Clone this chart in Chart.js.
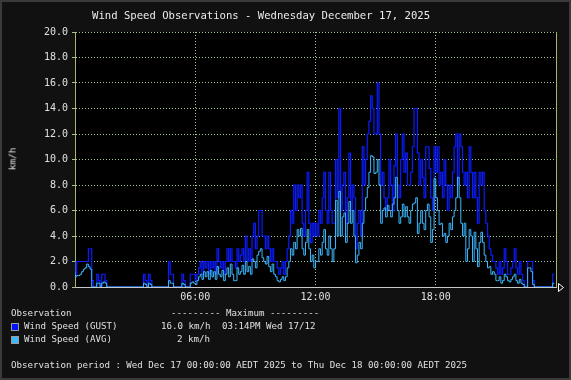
<!DOCTYPE html>
<html>
<head>
<meta charset="utf-8">
<script src="https://cdn.jsdelivr.net/npm/chart.js@4"></script>
<style>
html, body { margin: 0; padding: 0; background: #111; }
#wrap { position: relative; width: 571px; height: 380px; background: #111; overflow: hidden; }
#frame { position: absolute; left: 0; top: 0; width: 571px; height: 380px; box-sizing: border-box; border: 2px solid #3a3a3a; pointer-events: none; }
.t { position: absolute; white-space: pre; color: #e0e0e0; font-family: "DejaVu Sans Mono", monospace; font-size: 9.15px; line-height: 11px; }
.sw { position: absolute; width: 8px; height: 8px; box-sizing: border-box; border: 1px solid #9a9a9a; }
#title { font-size: 10.6px; line-height: 12px; color: #ececec; }
#ylab { left: 12px; top: 159px; font-size: 9.4px; transform: translate(-50%, -50%) rotate(-90deg); }
</style>
</head>
<body>
<div id="wrap">
  <canvas id="myChart" width="571" height="380"></canvas>
  <div class="t" id="title" style="left:92px;top:9px">Wind Speed Observations - Wednesday December 17, 2025</div>
  <div class="t" id="ylab">km/h</div>
  <div class="t" style="left:11px;top:308px">Observation</div>
  <div class="t" style="left:171px;top:308px">--------- Maximum ---------</div>
  <div class="sw" style="left:11px;top:323px;background:#0011ff"></div>
  <div class="t" style="left:24px;top:321px">Wind Speed (GUST)</div>
  <div class="t" style="left:161px;top:321px">16.0 km/h</div>
  <div class="t" style="left:222px;top:321px">03:14PM Wed 17/12</div>
  <div class="sw" style="left:11px;top:336px;background:#3db8ff"></div>
  <div class="t" style="left:24px;top:334px">Wind Speed (AVG)</div>
  <div class="t" style="left:177px;top:334px">2 km/h</div>
  <div class="t" style="left:11px;top:360px">Observation period : Wed Dec 17 00:00:00 AEDT 2025 to Thu Dec 18 00:00:00 AEDT 2025</div>
  <div id="frame"></div>
</div>
<script>
// 5 minute samples, one row per hour
const sampleMinutes = 5;

const gustKmh = [
  2, 1, 2, 2, 2, 2, 2, 2, 2, 3, 3, 0.5,
  0, 0, 1, 0.5, 0, 1, 1, 0.5, 0, 0, 0, 0,
  0, 0, 0, 0, 0, 0, 0, 0, 0, 0, 0, 0,
  0, 0, 0, 0, 0, 0, 1, 0.5, 0, 1, 0.5, 0,
  0, 0, 0, 0, 0, 0, 0, 0, 0, 2, 1, 1,
  0, 0, 0, 0, 0, 1, 0.5, 0, 0, 0, 1, 1,
  1, 0.5, 1, 1.5, 2, 1, 2, 1.5, 2, 1, 2, 1.5,
  2, 1, 3, 2, 1.5, 2, 1, 2, 3, 2, 3, 2,
  2, 1.5, 3, 2, 2.5, 3, 2, 4, 2, 3, 2, 4,
  5, 3, 4, 6, 6, 4, 4, 3, 4, 3, 2, 3,
  2, 2, 1.5, 1, 1.5, 2, 1, 2, 3, 4, 6, 5,
  8, 6, 8, 7, 8, 5, 4, 6, 9, 5, 3.5, 5,
  4, 5, 4, 6, 5, 7, 9, 6, 5, 9, 6, 5,
  5, 10, 7, 14, 6, 8, 9, 5, 7, 10.5, 6, 8,
  7, 3, 5, 6, 4, 11, 8, 10, 12, 13, 15, 14,
  12, 12, 16, 12, 8, 9, 7, 6, 7, 10, 8, 6,
  9.5, 12, 8, 7, 10, 12, 9, 10.5, 8, 8, 9, 11,
  14, 14, 10.5, 8, 10, 8.6, 7, 11, 11, 9.3, 7, 6,
  11, 9, 11, 8, 9, 7, 10, 8, 6, 8, 7, 9,
  11, 12, 8, 12, 11, 9, 8, 9, 7, 11, 9, 7,
  9, 7, 5, 9, 8, 9, 6, 5, 4, 3, 2.5, 2,
  2, 1.5, 1, 2, 1, 1.5, 3, 2, 1, 1, 1.5, 2,
  3, 1.5, 1, 2, 1, 0.5, 0, 0, 2, 2, 2, 0.5,
  0, 0, 0, 0, 0, 0, 0, 0, 0, 0, 0, 1
];

const avgKmh = [
  1.2, 0.8, 0.9, 0.9, 1.0, 1.2, 1.4, 1.5, 1.8, 1.6, 1.4, 0,
  0, 0, 0.3, 0.3, 0, 0.3, 0.4, 0.3, 0, 0, 0, 0,
  0, 0, 0, 0, 0, 0, 0, 0, 0, 0, 0, 0,
  0, 0, 0, 0, 0, 0, 0.3, 0.2, 0, 0.3, 0.2, 0,
  0, 0, 0, 0, 0, 0, 0, 0, 0, 0.5, 0.3, 0.3,
  0, 0, 0, 0, 0, 0.3, 0.2, 0, 0, 0, 0.3, 0.4,
  0.3, 0.2, 0.5, 0.8, 1.0, 0.6, 1.2, 0.8, 1.2, 0.6, 1.3, 0.8,
  1.2, 0.6, 1.6, 1.0, 0.8, 1.3, 0.5, 1.0, 1.5, 0.8, 1.8, 1.0,
  0.5, 0.5, 1.5, 1.0, 1.2, 1.7, 1.0, 2.0, 1.2, 1.6, 1.0, 2.2,
  2.0, 1.5, 2.5, 2.8, 3.0, 2.3, 2.0, 1.8, 2.4, 1.6, 1.2, 1.8,
  1.0, 0.8, 0.5, 0.4, 0.6, 0.8, 0.5, 0.8, 1.5, 2.0, 3.0, 2.5,
  3.5, 3.0, 4.5, 4.0, 4.6, 3.0, 2.5, 3.5, 4.5, 3.0, 2.0, 2.5,
  1.5, 2.0, 2.0, 3.0, 2.5, 3.5, 4.5, 3.0, 2.5, 4.0, 3.0, 2.0,
  3.0, 6.8, 4.0, 7.5, 4.0, 5.5, 5.8, 3.5, 5.0, 6.7, 5.0, 6.0,
  4.0, 1.9, 2.5, 3.5, 3.0, 5.0, 6.0, 7.0, 7.8, 9.0, 10.3, 10.2,
  8.9, 9.0, 10.0, 8.0, 5.0, 6.0, 6.2, 5.5, 6.4, 6.0, 5.5, 6.5,
  7.0, 8.6, 6.0, 5.0, 5.5, 6.5, 5.5, 6.3, 5.5, 5.0, 6.0, 6.5,
  6.6, 7.0, 4.2, 5.0, 6.0, 5.0, 4.5, 6.0, 6.5, 5.5, 3.5, 4.5,
  8.5, 7.0, 6.0, 4.9, 5.0, 4.0, 4.2, 3.5, 4.0, 5.0, 4.5, 5.5,
  6.0, 7.0, 8.6, 7.0, 5.0, 4.0, 5.0, 2.0, 3.0, 4.5, 4.0, 2.0,
  4.3, 3.0, 1.6, 3.5, 4.3, 3.5, 2.5, 2.0, 1.5, 1.6, 1.0, 1.2,
  1.0, 0.5, 0.5, 0.8, 0.3, 0.5, 1.0, 0.8, 0.5, 0.4, 0.6, 0.8,
  1.0, 0.5, 0.3, 0.6, 0.3, 0.2, 0, 0, 1.5, 1.5, 1.2, 0.2,
  0, 0, 0, 0, 0, 0, 0, 0, 0, 0, 0, 0.3
];

const tickHours = [6, 12, 18];
const tickLabels = ['06:00', '12:00', '18:00'];

const gridColor = '#a6c895';
const axisColor = '#a8b46a';
const textColor = '#e0e0e0';
const monoFont = { family: 'DejaVu Sans Mono', size: 10 };

function toPoints(values) {
  return values.map((v, i) => ({ x: i * sampleMinutes / 60, y: v }));
}

// black plot area
const plotBgPlugin = {
  id: 'plotBg',
  beforeDraw(chart) {
    const { ctx, chartArea } = chart;
    ctx.save();
    ctx.fillStyle = '#000000';
    ctx.fillRect(chartArea.left, chartArea.top, chartArea.right - chartArea.left, chartArea.bottom - chartArea.top);
    ctx.restore();
  }
};

// right edge line and the little arrow at the end of the time axis
const edgePlugin = {
  id: 'edge',
  afterDraw(chart) {
    const { ctx, chartArea } = chart;
    const r = Math.round(chartArea.right) + 0.5;
    const b = Math.round(chartArea.bottom) + 0.5;
    ctx.save();
    ctx.strokeStyle = axisColor;
    ctx.lineWidth = 1;
    ctx.beginPath();
    ctx.moveTo(r, chartArea.top);
    ctx.lineTo(r, b);
    ctx.stroke();
    ctx.strokeStyle = '#ffffff';
    ctx.beginPath();
    ctx.moveTo(r + 2, b - 4);
    ctx.lineTo(r + 7, b);
    ctx.lineTo(r + 2, b + 4);
    ctx.closePath();
    ctx.stroke();
    ctx.restore();
  }
};

const ctx = document.getElementById('myChart');

new Chart(ctx, {
  type: 'line',
  data: {
    datasets: [{
      label: 'Wind Speed (AVG)',
      data: toPoints(avgKmh),
      borderColor: '#3db8ff',
      borderWidth: 1,
      pointRadius: 0,
      stepped: 'after',
      order: 1
    }, {
      label: 'Wind Speed (GUST)',
      data: toPoints(gustKmh),
      borderColor: '#0a1cff',
      borderWidth: 1.2,
      pointRadius: 0,
      stepped: 'after',
      order: 2
    }]
  },
  options: {
    responsive: false,
    animation: false,
    devicePixelRatio: 1,
    layout: { padding: { top: 32, right: 15, left: 0, bottom: 0 } },
    plugins: {
      legend: { display: false },
      tooltip: { enabled: false }
    },
    scales: {
      x: {
        type: 'linear',
        min: 0,
        max: 24,
        afterBuildTicks: (scale) => { scale.ticks = tickHours.map(v => ({ value: v })); },
        afterFit: (scale) => { scale.height = 93; },
        ticks: {
          autoSkip: false,
          maxRotation: 0,
          padding: 4,
          color: textColor,
          font: monoFont,
          callback: (v) => tickLabels[tickHours.indexOf(v)]
        },
        grid: { color: gridColor, drawTicks: false },
        border: { color: '#c8c8c8', dash: [1, 2] }
      },
      y: {
        min: 0,
        max: 20,
        afterFit: (scale) => { scale.width = 75; },
        ticks: {
          stepSize: 2,
          padding: 4,
          color: textColor,
          font: monoFont,
          callback: (v) => v.toFixed(1)
        },
        grid: { color: gridColor, tickLength: 3, tickColor: gridColor },
        border: { color: axisColor, dash: [1, 2] }
      }
    }
  },
  plugins: [plotBgPlugin, edgePlugin]
});
</script>
</body>
</html>
